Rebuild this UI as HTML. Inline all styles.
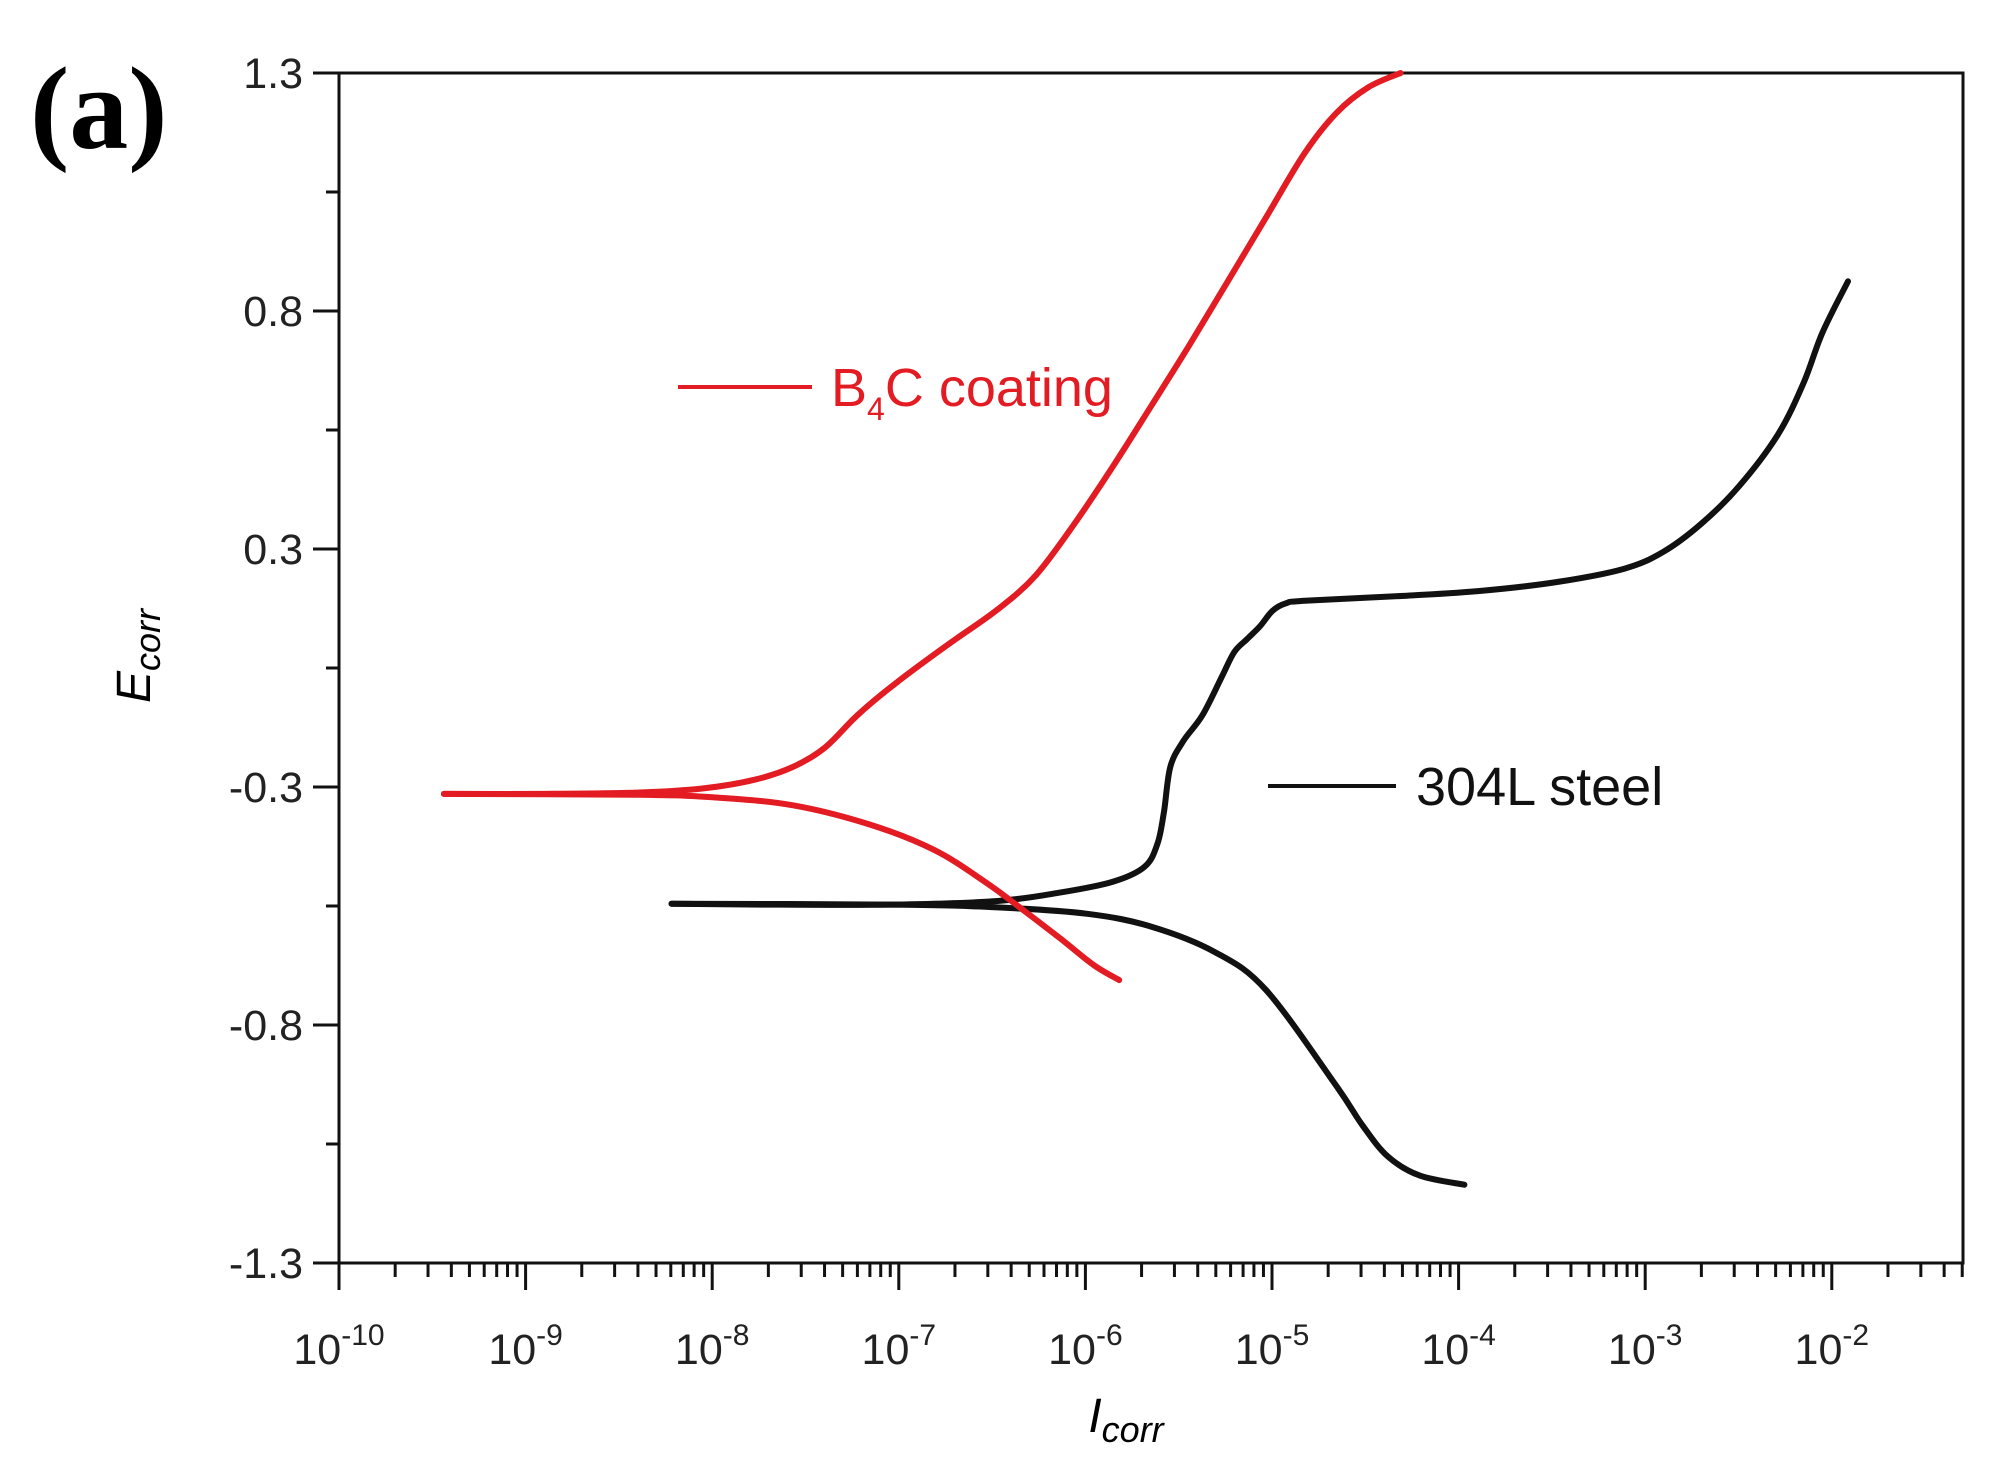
<!DOCTYPE html>
<html><head><meta charset="utf-8"><style>
html,body{margin:0;padding:0;background:#fff;}
svg{display:block;font-family:"Liberation Sans",sans-serif;}
</style></head><body>
<svg id="chart" width="2008" height="1470" viewBox="0 0 2008 1470">
<text x="30" y="148" font-family="Liberation Serif,serif" font-weight="bold" font-size="118">(a)</text>
<g id="axes"></g>
<g id="series"></g>
<g>
<line x1="678" y1="387" x2="812" y2="387" stroke="#e31b23" stroke-width="4"/>
<text x="831" y="406" font-size="54" fill="#e31b23">B<tspan font-size="32" dy="14">4</tspan><tspan dy="-14">C coating</tspan></text>
</g>
<g>
<line x1="1268" y1="786" x2="1396" y2="786" stroke="#111" stroke-width="4"/>
<text x="1416" y="805" font-size="54" fill="#111">304L steel</text>
</g>
<text x="1126" y="1432" text-anchor="middle" font-size="48" font-style="italic">I<tspan font-size="36" dy="10">corr</tspan></text>
<text transform="translate(150,656) rotate(-90)" text-anchor="middle" font-size="48" font-style="italic">E<tspan font-size="36" dy="10">corr</tspan></text>
</svg>
<script>
const xDecades = [-10,-9,-8,-7,-6,-5,-4,-3,-2];
const xTickLabels = ["-10","-9","-8","-7","-6","-5","-4","-3","-2"];
const yTickLabels = ["1.3","0.8","0.3","-0.3","-0.8","-1.3"];
const b4cAnodicLogI = [-9.438,-8.938,-8.389,-8.047,-7.772,-7.567,-7.396,-7.224,-7.019,-6.744,-6.470,-6.265,-6.059,-5.853,-5.648,-5.442,-5.237,-5.031,-4.825,-4.654,-4.483,-4.311];
const b4cAnodicE = [-0.275,-0.275,-0.272,-0.263,-0.244,-0.216,-0.174,-0.104,-0.034,0.049,0.128,0.203,0.315,0.440,0.572,0.706,0.845,0.985,1.125,1.213,1.269,1.3];
const b4cCathodicLogI = [-9.438,-8.389,-7.978,-7.567,-7.156,-6.813,-6.539,-6.333,-6.128,-5.956,-5.819];
const b4cCathodicE = [-0.275,-0.277,-0.283,-0.300,-0.342,-0.397,-0.467,-0.529,-0.593,-0.649,-0.682];
const steelAnodicLogI = [-8.218,-7.704,-7.019,-6.470,-6.128,-5.853,-5.682,-5.613,-5.579,-5.545,-5.476,-5.374,-5.271,-5.202,-5.134,-5.065,-4.997,-4.928,-4.825,-4.277,-3.866,-3.455,-3.112,-2.906,-2.700,-2.495,-2.289,-2.152,-2.050,-1.913];
const steelAnodicE = [-0.515,-0.517,-0.517,-0.509,-0.490,-0.467,-0.434,-0.383,-0.314,-0.216,-0.160,-0.104,-0.021,0.035,0.063,0.091,0.125,0.141,0.147,0.158,0.169,0.189,0.217,0.253,0.315,0.398,0.510,0.622,0.733,0.845];
const steelCathodicLogI = [-8.218,-7.019,-6.470,-5.990,-5.648,-5.305,-5.031,-4.654,-4.517,-4.380,-4.208,-3.969];
const steelCathodicE = [-0.515,-0.517,-0.523,-0.537,-0.565,-0.621,-0.704,-0.914,-0.998,-1.067,-1.109,-1.129];

const L=339,R=1963,T=73,B=1263;
const xMin=-10, pxPerDec=186.6;
const yMax=1.3, yMin=-1.3;
function sx(v){return L+(v-xMin)*pxPerDec;}
function sy(v){return T+(yMax-v)/(yMax-yMin)*(B-T);}
const NS="http://www.w3.org/2000/svg";
function mk(tag,attrs,parent){const e=document.createElementNS(NS,tag);for(const k in attrs)e.setAttribute(k,attrs[k]);parent.appendChild(e);return e;}
const ax=document.getElementById('axes');
const frame=mk('rect',{x:L,y:T,width:R-L,height:B-T,fill:'none',stroke:'#111','stroke-width':3},ax);


yTickLabels.forEach((lab,i)=>{
  const y=T+i*(B-T)/(yTickLabels.length-1);
  const t=mk('line',{x1:L-26,y1:y,x2:L,y2:y,stroke:'#111','stroke-width':3},ax);
  
  
  const tx=mk('text',{x:L-36,y:y+15,'text-anchor':'end','font-size':43,fill:'#222'},ax);
  tx.textContent=lab;
  
  
  if(i<yTickLabels.length-1){
    const ym=y+(B-T)/(yTickLabels.length-1)/2;
    const m=mk('line',{x1:L-13,y1:ym,x2:L,y2:ym,stroke:'#111','stroke-width':3},ax);
    
    
  }
});
for(let d=-10; d<=-2; d++){
  for(let k=1;k<=9;k++){
    const v=d+Math.log10(k);
    const x=sx(v);
    if(x>R+1) break;
    const len=k===1?27:14;
    const t=mk('line',{x1:x,y1:B,x2:x,y2:B+len,stroke:'#111','stroke-width':3},ax);
    
    
  }
}
xDecades.forEach((d,i)=>{
  const x=sx(d);
  const tx=mk('text',{x:x,y:1364,'text-anchor':'middle','font-size':43,fill:'#222'},ax);
  tx.innerHTML='10<tspan font-size="30" dy="-19">'+xTickLabels[i]+'</tspan>';
  
  
});
const sg=document.getElementById('series');
function draw(xs,ys,color,name){
  const P=xs.map((v,i)=>[sx(v),sy(ys[i])]);
  let d='M'+P[0][0].toFixed(1)+','+P[0][1].toFixed(1);
  for(let i=0;i<P.length-1;i++){
    const p0=P[Math.max(0,i-1)],p1=P[i],p2=P[i+1],p3=P[Math.min(P.length-1,i+2)];
    const c1=[p1[0]+(p2[0]-p0[0])/6,p1[1]+(p2[1]-p0[1])/6];
    const c2=[p2[0]-(p3[0]-p1[0])/6,p2[1]-(p3[1]-p1[1])/6];
    d+=' C'+c1[0].toFixed(1)+','+c1[1].toFixed(1)+' '+c2[0].toFixed(1)+','+c2[1].toFixed(1)+' '+p2[0].toFixed(1)+','+p2[1].toFixed(1);
  }
  const p=mk('path',{d:d,fill:'none',stroke:color,'stroke-width':6,'stroke-linejoin':'round','stroke-linecap':'round'},sg);
  
  
}
draw(steelAnodicLogI,steelAnodicE,'#111','steel-anodic-curve');
draw(steelCathodicLogI,steelCathodicE,'#111','steel-cathodic-curve');
draw(b4cAnodicLogI,b4cAnodicE,'#e31b23','b4c-anodic-curve');
draw(b4cCathodicLogI,b4cCathodicE,'#e31b23','b4c-cathodic-curve');
</script>
</body></html>
